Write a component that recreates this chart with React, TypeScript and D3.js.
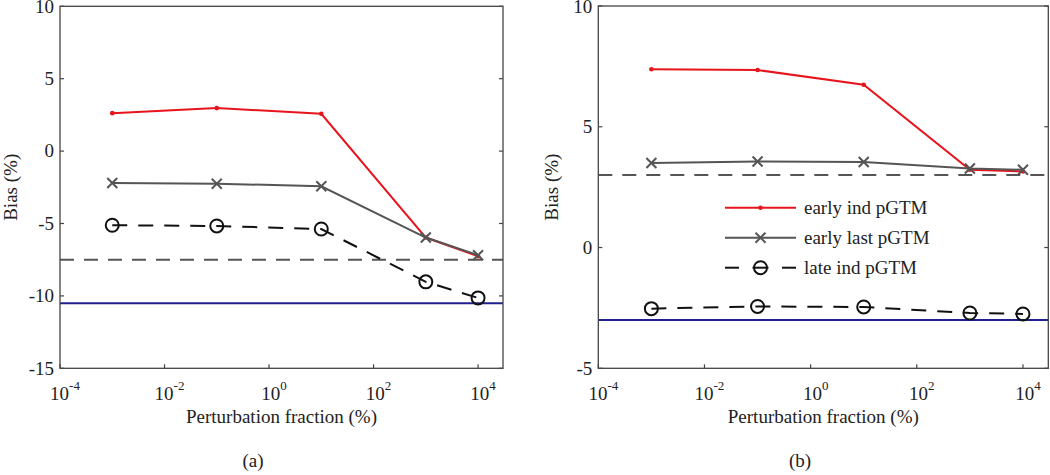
import React from "react";
import * as d3 from "d3";

const xVals = [1e-3, 1e-1, 1e1, 1e3, 1e4];
const xTickExps = [-4, -2, 0, 2, 4];

const aEarlyInd = [2.62, 2.97, 2.58, -5.97, -7.26];
const aEarlyLast = [-2.2, -2.25, -2.43, -5.97, -7.19];
const aLateInd = [-5.12, -5.17, -5.38, -9.03, -10.14];
const aRefDashed = -7.5;
const aRefSolid = -10.5;
const aYTicks = [-15, -10, -5, 0, 5, 10];

const bEarlyInd = [7.38, 7.35, 6.74, 3.22, 3.15];
const bEarlyLast = [3.5, 3.56, 3.54, 3.27, 3.22];
const bLateInd = [-2.53, -2.44, -2.46, -2.71, -2.75];
const bRefDashed = 3.0;
const bRefSolid = -3.0;
const bYTicks = [-5, 0, 5, 10];

const legendLabels = ["early ind pGTM", "early last pGTM", "late ind pGTM"];

const FONT = "'Liberation Serif', 'Times New Roman', serif";
const AXIS = "#444";
const RED = "#e8141c";
const GRAY = "#555";
const BLUE = "#1f1f8f";
const FS = 19;

type PanelProps = {
  x0: number; x1: number; y0: number; y1: number;
  yDomain: [number, number]; yTicks: number[];
  earlyInd: number[]; earlyLast: number[]; lateInd: number[];
  refDashed: number; refSolid: number;
  yLabelX: number; tag: string; tagX: number; legend?: boolean;
};

function XMark({ x, y }: { x: number; y: number }) {
  const s = 5;
  return (
    <path d={`M${x - s},${y - s}L${x + s},${y + s}M${x - s},${y + s}L${x + s},${y - s}`} stroke={GRAY} strokeWidth={2} fill="none" />
  );
}

function Panel(p: PanelProps) {
  const x = d3.scaleLog().domain([1e-4, 3e4]).range([p.x0, p.x1]);
  const y = d3.scaleLinear().domain(p.yDomain).range([p.y1, p.y0]);
  const line = d3.line<number>().x((_, i) => x(xVals[i])).y((d) => y(d));
  const cx = (p.x0 + p.x1) / 2;
  const cy = (p.y0 + p.y1) / 2;
  return (
    <g>
      <line x1={p.x0} x2={p.x1} y1={y(p.refDashed)} y2={y(p.refDashed)} stroke={GRAY} strokeWidth={2} strokeDasharray="14,10" />
      <line x1={p.x0} x2={p.x1} y1={y(p.refSolid)} y2={y(p.refSolid)} stroke={BLUE} strokeWidth={2} />
      <path d={line(p.earlyInd) || ""} stroke={RED} strokeWidth={2} fill="none" />
      {p.earlyInd.map((v, i) => (
        <circle key={"r" + i} cx={x(xVals[i])} cy={y(v)} r={2.3} fill={RED} />
      ))}
      <path d={line(p.earlyLast) || ""} stroke={GRAY} strokeWidth={2} fill="none" />
      {p.earlyLast.map((v, i) => (
        <XMark key={"g" + i} x={x(xVals[i])} y={y(v)} />
      ))}
      <path d={line(p.lateInd) || ""} stroke="#111" strokeWidth={2} fill="none" strokeDasharray="15,11" />
      {p.lateInd.map((v, i) => (
        <circle key={"c" + i} cx={x(xVals[i])} cy={y(v)} r={6.5} fill="none" stroke="#111" strokeWidth={2} />
      ))}
      <rect x={p.x0} y={p.y0} width={p.x1 - p.x0} height={p.y1 - p.y0} fill="none" stroke={AXIS} strokeWidth={1.3} />
      {p.yTicks.map((t) => (
        <g key={"yt" + t}>
          <line x1={p.x0} x2={p.x0 + 4} y1={y(t)} y2={y(t)} stroke={AXIS} strokeWidth={1.2} />
          <line x1={p.x1} x2={p.x1 - 4} y1={y(t)} y2={y(t)} stroke={AXIS} strokeWidth={1.2} />
          <text x={p.x0 - 6} y={Math.max(y(t), 6.8)} dy="0.33em" textAnchor="end" fontFamily={FONT} fontSize={FS} fill="#222">{t}</text>
        </g>
      ))}
      {xTickExps.map((e) => {
        const tx = x(Math.pow(10, e));
        return (
          <g key={"xt" + e}>
            <line x1={tx} x2={tx} y1={p.y1} y2={p.y1 - 4} stroke={AXIS} strokeWidth={1.2} />
            <text x={tx + 5} y={p.y1 + 32} textAnchor="middle" fontFamily={FONT} fontSize={FS} fill="#222">
              10<tspan dy={-10} fontSize={13}>{e}</tspan>
            </text>
          </g>
        );
      })}
      <text x={cx} y={p.y1 + 55} textAnchor="middle" fontFamily={FONT} fontSize={FS} fill="#222">Perturbation fraction (%)</text>
      <text transform={`translate(${p.yLabelX},${cy}) rotate(-90)`} textAnchor="middle" fontFamily={FONT} fontSize={FS} fill="#222">Bias (%)</text>
      <text x={p.tagX} y={467} textAnchor="middle" fontFamily={FONT} fontSize={FS} fill="#222">{p.tag}</text>
      {p.legend && (
        <g>
          {legendLabels.map((lab, i) => {
            const ly = 207.7 + i * 30;
            const lx0 = 725, lx1 = 796, lm = (lx0 + lx1) / 2;
            return (
              <g key={lab}>
                {i === 0 && (
                  <g>
                    <line x1={lx0} x2={lx1} y1={ly} y2={ly} stroke={RED} strokeWidth={2} />
                    <circle cx={lm} cy={ly} r={2.3} fill={RED} />
                  </g>
                )}
                {i === 1 && (
                  <g>
                    <line x1={lx0} x2={lx1} y1={ly} y2={ly} stroke={GRAY} strokeWidth={2} />
                    <XMark x={lm} y={ly} />
                  </g>
                )}
                {i === 2 && (
                  <g>
                    <line x1={lx0} x2={lx0 + 14} y1={ly} y2={ly} stroke="#111" strokeWidth={2} />
                    <line x1={lm - 8} x2={lm + 8} y1={ly} y2={ly} stroke="#111" strokeWidth={2} />
                    <line x1={lx1 - 14} x2={lx1} y1={ly} y2={ly} stroke="#111" strokeWidth={2} />
                    <circle cx={lm} cy={ly} r={6.5} fill="none" stroke="#111" strokeWidth={2} />
                  </g>
                )}
                <text x={804} y={ly} dy="0.33em" fontFamily={FONT} fontSize={FS} fill="#222">{lab}</text>
              </g>
            );
          })}
        </g>
      )}
    </g>
  );
}

export default function App() {
  return (
    <svg width={1050} height={475} style={{ position: "absolute", left: 0, top: 0, background: "#fff" }}>
      <rect width={1050} height={475} fill="#fff" />
      <Panel x0={60} x1={503} y0={6.3} y1={368.3} yDomain={[-15, 10]} yTicks={aYTicks}
        earlyInd={aEarlyInd} earlyLast={aEarlyLast} lateInd={aLateInd}
        refDashed={aRefDashed} refSolid={aRefSolid} yLabelX={17} tag="(a)" tagX={253} />
      <Panel x0={598.3} x1={1048.3} y0={6} y1={368.3} yDomain={[-5, 10]} yTicks={bYTicks}
        earlyInd={bEarlyInd} earlyLast={bEarlyLast} lateInd={bLateInd}
        refDashed={bRefDashed} refSolid={bRefSolid} yLabelX={558} tag="(b)" tagX={800} legend />
    </svg>
  );
}
